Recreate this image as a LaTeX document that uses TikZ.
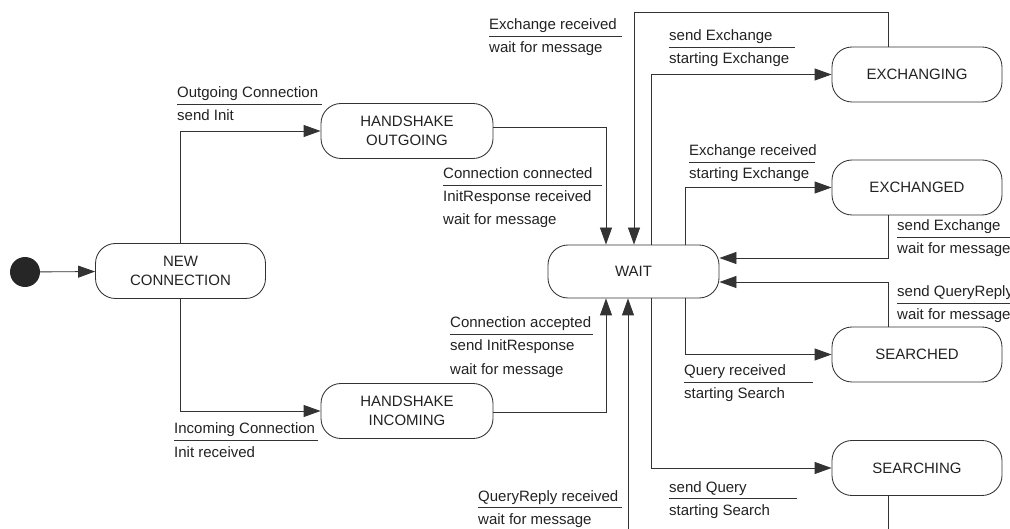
\documentclass[tikz,border=0pt]{standalone}
\usepackage{fontspec}
\setmainfont{Liberation Sans}
\usetikzlibrary{arrows.meta}
\definecolor{linec}{HTML}{333333}
\definecolor{textc}{HTML}{222222}
\newcommand\lbltwo[6]{%
  \node[lbl] (#1a) at (#2,#3) {#5};
  \draw[rul] (#2,#3+6.5) -- (#4,#3+6.5);
  \node[lbl] (#1b) at (#2,#3+23) {#6};}
\newcommand\lblthree[7]{%
  \node[lbl] (#1a) at (#2,#3) {#5};
  \draw[rul] (#2,#3+6.5) -- (#4,#3+6.5);
  \node[lbl] (#1b) at (#2,#3+23) {#6};
  \node[lbl] (#1c) at (#2,#3+46) {#7};}
\begin{document}
\begin{tikzpicture}[x=1pt,y=-1pt,
  state/.style={draw=linec, line width=0.85pt, rounded corners=20pt, minimum width=170pt, minimum height=55pt, align=center, font=\fontsize{15}{19}\selectfont, text=textc, inner sep=0pt},
  lbl/.style={anchor=base west, inner sep=0pt, font=\fontsize{15}{19}\selectfont, text=textc},
  conn/.style={draw=linec, line width=0.85pt, -{Triangle[length=17pt,width=12pt]}},
  rul/.style={draw=linec, line width=0.85pt}]
\useasboundingbox (0,0) rectangle (1010,529);
\clip (0,0) rectangle (1010,529);
% states
\node[circle, fill=black!85, minimum size=30pt, inner sep=0pt] (init) at (25,272) {};
\node[state] (new) at (180.5,271) {NEW\\CONNECTION};
\node[state, minimum width=172pt] (ho) at (407,131) {HANDSHAKE\\OUTGOING};
\node[state, minimum width=172pt] (hi) at (407,411) {HANDSHAKE\\INCOMING};
\node[state, minimum width=171pt, minimum height=53pt] (wait) at (633.5,271.5) {WAIT};
\node[state] (exing) at (917,74.5) {EXCHANGING};
\node[state] (exed) at (917,187.5) {EXCHANGED};
\node[state] (sed) at (917,354.5) {SEARCHED};
\node[state] (sing) at (917,468) {SEARCHING};
% bend coordinates
\coordinate (cho) at (606,127);
\coordinate (chi) at (606,412);
\coordinate (ct1) at (888,12);
\coordinate (ct2) at (634,12);
\coordinate (ce1) at (651,74);
\coordinate (ce2) at (685,0);
\coordinate (cr1) at (888,258);
\coordinate (cr2) at (888,282);
\coordinate (cb1) at (888,545);
\coordinate (cb2) at (628,545);
% connectors
\draw[conn] (init) -- (new);
\draw[conn] (new.north) |- (ho.west);
\draw[conn] (new.south) |- (hi.west);
\draw[conn] (ho.east |- cho) -- (cho) -- (cho |- wait.north);
\draw[conn] (hi.east |- chi) -- (chi) -- (chi |- wait.south);
\draw[conn] (ct1 |- exing.north) -- (ct1) -- (ct2) -- (ct2 |- wait.north);
\draw[conn] (ce1 |- wait.north) |- (exing.west);
\draw[conn] (ce2 |- wait.north) |- (exed.west);
\draw[conn] (cr1 |- exed.south) -- (cr1) -- (wait.east |- cr1);
\draw[conn] (cr2 |- sed.north) -- (cr2) -- (wait.east |- cr2);
\draw[conn] (ce2 |- wait.south) |- (sed.west);
\draw[conn] (ce1 |- wait.south) |- (sing.west);
\draw[conn] (cb1 |- sing.south) -- (cb1) -- (cb2) -- (cb2 |- wait.south);
% labels
\lbltwo{lout}{177}{98}{322}{Outgoing Connection}{send Init}
\lblthree{lcc}{443}{179}{602}{Connection connected}{InitResponse received}{wait for message}
\lblthree{lca}{450}{328}{593}{Connection accepted}{send InitResponse}{wait for message}
\lbltwo{lin}{174}{434}{318}{Incoming Connection}{Init received}
\lbltwo{lerw}{489}{30}{622}{Exchange received}{wait for message}
\lbltwo{lse}{669}{41}{795}{send Exchange}{starting Exchange}
\lbltwo{lers}{689}{156}{815}{Exchange received}{starting Exchange}
\lbltwo{lsew}{897}{231}{1015}{send Exchange}{wait for message}
\lbltwo{lsqr}{897}{297}{1015}{send QueryReply}{wait for message}
\lbltwo{lqr}{684}{376}{813}{Query received}{starting Search}
\lbltwo{lsq}{669}{492}{797}{send Query}{starting Search}
\lbltwo{lqrr}{478}{501}{622}{QueryReply received}{wait for message}
\end{tikzpicture}
\end{document}
